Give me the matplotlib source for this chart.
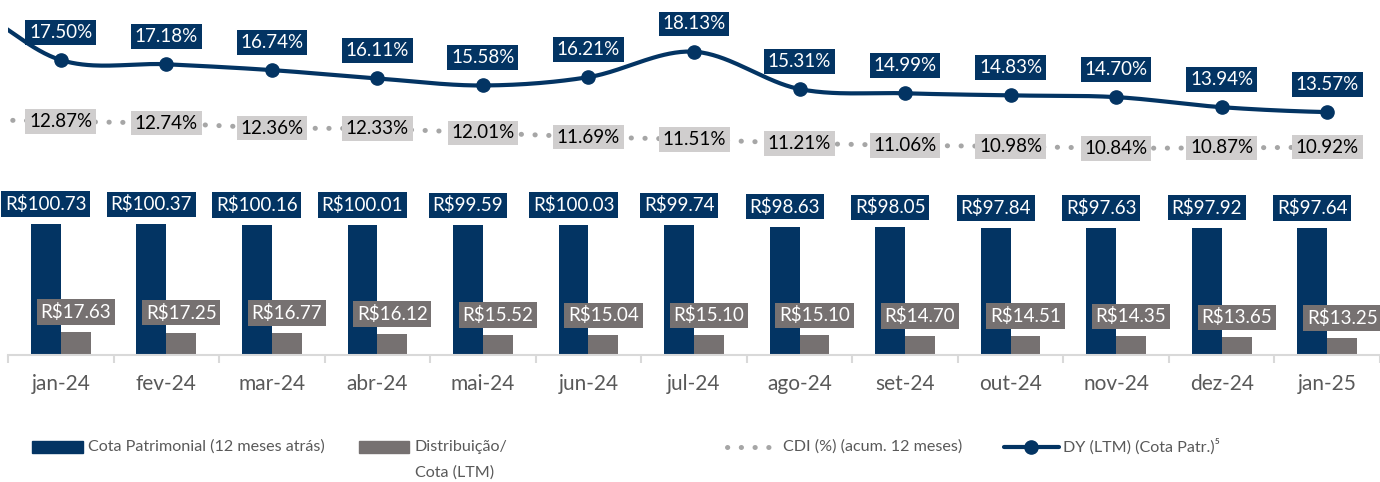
import numpy as np
import matplotlib

matplotlib.use("Agg")
import matplotlib.pyplot as plt
from matplotlib.lines import Line2D
from matplotlib.patches import Rectangle

plt.rcParams["font.family"] = ["Lato", "DejaVu Sans"]

# dados
meses = ["jan-24", "fev-24", "mar-24", "abr-24", "mai-24", "jun-24", "jul-24",
         "ago-24", "set-24", "out-24", "nov-24", "dez-24", "jan-25"]
cota = [100.73, 100.37, 100.16, 100.01, 99.59, 100.03, 99.74,
        98.63, 98.05, 97.84, 97.63, 97.92, 97.64]
dist = [17.63, 17.25, 16.77, 16.12, 15.52, 15.04, 15.10,
        15.10, 14.70, 14.51, 14.35, 13.65, 13.25]
cdi = [12.87, 12.74, 12.36, 12.33, 12.01, 11.69, 11.51,
       11.21, 11.06, 10.98, 10.84, 10.87, 10.92]
dy = [17.50, 17.18, 16.74, 16.11, 15.58, 16.21, 18.13,
      15.31, 14.99, 14.83, 14.70, 13.94, 13.57]
# mês anterior (dez-23), fora da área visível; só dá a entrada das linhas
cdi_ant = 13.04
dy_ant = 22.0

NAVY = "#033463"
GRAY = "#767171"
CDI_DOT = "#A6A6A6"
CDI_BOX = "#D0CECE"
AXIS = "#D9D9D9"
TXT = "#595959"
FS = 13.5      # rótulos de dados
FS_TICK = 15
FS_LEG = 11.6
BOX_PAD = 0.2


def catmull(xs, ys, n=40):
    """Curva suavizada (Catmull-Rom) passando pelos pontos."""
    p = [ys[0]] + list(ys) + [ys[-1]]
    out_x, out_y = [], []
    for i in range(len(ys) - 1):
        p0, p1, p2, p3 = p[i], p[i + 1], p[i + 2], p[i + 3]
        t = np.linspace(0, 1, n)
        m1 = (p2 - p0) / 2
        m2 = (p3 - p1) / 2
        h00 = 2 * t**3 - 3 * t**2 + 1
        h10 = t**3 - 2 * t**2 + t
        h01 = -2 * t**3 + 3 * t**2
        h11 = t**3 - t**2
        out_y.extend(h00 * p1 + h10 * m1 + h01 * p2 + h11 * m2)
        out_x.extend(xs[i] + t * (xs[i + 1] - xs[i]))
    return np.array(out_x), np.array(out_y)


W, H = 1380, 482
fig = plt.figure(figsize=(W / 100, H / 100), dpi=100)
ax = fig.add_axes([8 / W, (H - 355) / H, 1372 / W, 355 / H])

x = np.arange(len(meses))
bw = 0.283
off = bw / 2

ax.bar(x - off, cota, width=bw, color=NAVY, zorder=2)
ax.bar(x + off, dist, width=bw, color=GRAY, zorder=2)
ax.set_ylim(0, 273)
ax.set_xlim(-0.5, len(meses) - 0.5)

for xi, v in zip(x, cota):
    ax.annotate(f"R${v:.2f}", (xi - off, v), xytext=(0, 14.4),
                textcoords="offset points", ha="center", va="center",
                fontsize=FS, color="white", zorder=5,
                bbox=dict(boxstyle=f"square,pad={BOX_PAD}", fc=NAVY, ec="none"))
for xi, v in zip(x, dist):
    ax.annotate(f"R${v:.2f}", (xi + off, v), xytext=(0, 14.4),
                textcoords="offset points", ha="center", va="center",
                fontsize=FS, color="white", zorder=5,
                bbox=dict(boxstyle=f"square,pad={BOX_PAD}", fc=GRAY, ec="none"))

# eixo secundário: percentuais
ax2 = ax.twinx()
ax2.set_ylim(-4.76, 22.03)
ax2.set_xlim(-0.5, len(meses) - 0.5)

for a in (ax, ax2):
    for s in ["top", "left", "right"]:
        a.spines[s].set_visible(False)
    a.tick_params(axis="y", left=False, right=False,
                  labelleft=False, labelright=False)
ax2.spines["bottom"].set_visible(False)
ax.spines["bottom"].set_color(AXIS)
ax.spines["bottom"].set_linewidth(1.5)
ax.set_xticks(x)
ax.set_xticklabels(meses)
ax.set_xticks(np.arange(-0.5, len(meses)), minor=True)
ax.tick_params(axis="x", which="major", length=0, pad=14, labelsize=FS_TICK,
               labelcolor=TXT)
ax.tick_params(axis="x", which="minor", length=6, width=1.5, color=AXIS)
ax2.tick_params(axis="x", which="both", bottom=False, labelbottom=False)

xc = np.concatenate([[-1], x])
ax2.plot(xc, [cdi_ant] + cdi, color=CDI_DOT, lw=3.6,
         linestyle=(0, (0.05, 2.7)), dash_capstyle="round", zorder=2)
for xi, v in zip(x, cdi):
    ax2.annotate(f"{v:.2f}%", (xi, v), ha="center", va="center",
                 fontsize=FS, color="black", zorder=5,
                 bbox=dict(boxstyle=f"square,pad={BOX_PAD}", fc=CDI_BOX, ec="none"))

sx, sy = catmull(xc, [dy_ant] + dy)
ax2.plot(sx, sy, color=NAVY, lw=3, solid_capstyle="round", zorder=3)
ax2.plot(x, dy, "o", color=NAVY, ms=9.5, zorder=4)
for xi, v in zip(x, dy):
    ax2.annotate(f"{v:.2f}%", (xi, v), xytext=(0, 20),
                 textcoords="offset points", ha="center", va="center",
                 fontsize=FS, color="white", zorder=5,
                 bbox=dict(boxstyle=f"square,pad={BOX_PAD}", fc=NAVY, ec="none"))

# legenda
def fx(px):
    return px / W


def fy(py):
    return (H - py) / H


ly = 447
leg_kw = dict(fontsize=FS_LEG, color=TXT, va="center", ha="left")
fig.add_artist(Rectangle((fx(32), fy(453)), fx(83) - fx(32), 12 / H,
                         transform=fig.transFigure, color=NAVY))
fig.text(fx(88), fy(ly), "Cota Patrimonial (12 meses atrás)", **leg_kw)
fig.add_artist(Rectangle((fx(359), fy(453)), fx(409) - fx(359), 12 / H,
                         transform=fig.transFigure, color=GRAY))
fig.text(fx(415), fy(ly), "Distribuição/", **leg_kw)
fig.text(fx(415), fy(ly + 26), "Cota (LTM)", **leg_kw)
fig.add_artist(Line2D([fx(727), fx(776)], [fy(ly), fy(ly)],
                      transform=fig.transFigure, color=CDI_DOT, lw=3.6,
                      linestyle=(0, (0.05, 2.7)), dash_capstyle="round"))
fig.text(fx(783), fy(ly), "CDI (%) (acum. 12 meses)", **leg_kw)
fig.add_artist(Line2D([fx(1004), fx(1059)], [fy(ly), fy(ly)],
                      transform=fig.transFigure, color=NAVY, lw=3,
                      solid_capstyle="round"))
fig.add_artist(Line2D([fx(1031)], [fy(ly)], transform=fig.transFigure,
                      marker="o", ms=9.5, color=NAVY))
fig.text(fx(1063), fy(ly), "DY (LTM) (Cota Patr.)⁵", **leg_kw)

fig.savefig("out.png", dpi=100, facecolor="white")
